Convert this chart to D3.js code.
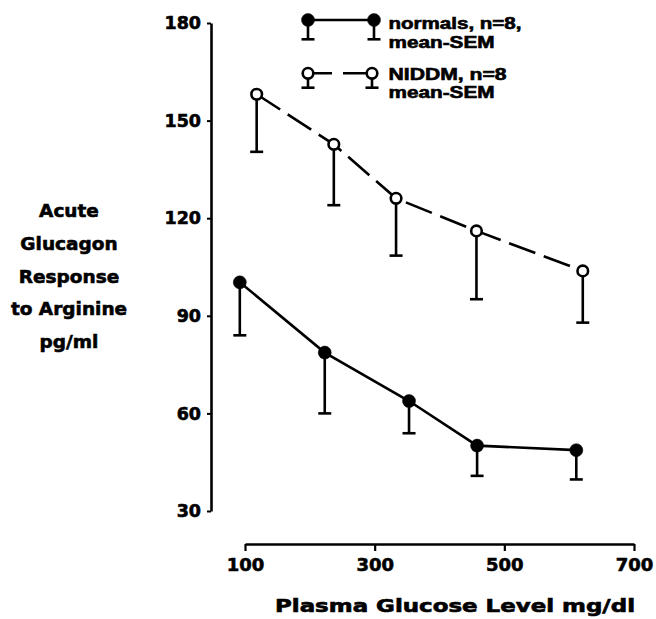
<!DOCTYPE html>
<html>
<head>
<meta charset="utf-8">
<script src="https://cdn.jsdelivr.net/npm/d3@7"></script>
<style>
  html, body { margin: 0; padding: 0; background: #fff; }
  svg { display: block; }
  .tick text { font-family: "DejaVu Sans", sans-serif; font-weight: bold; fill: #000; }
</style>
</head>
<body>
<svg id="chart" width="656" height="619"></svg>
<script>
// ---- data ----
const glucoseNormals = [92, 223, 353, 458, 611];
const meanNormals    = [100.3, 78.7, 63.8, 50.1, 48.7];
const semNormals     = [16.3, 18.7, 9.9, 9.3, 9.0];

const glucoseNIDDM = [118, 237, 333, 457, 621];
const meanNIDDM    = [158.1, 142.7, 126.1, 116.1, 103.8];
const semNIDDM     = [17.7, 18.7, 17.6, 21.0, 15.9];

const yTicks = [30, 60, 90, 120, 150, 180];
const xTicks = [100, 300, 500, 700];
const yTitleLines = ["Acute", "Glucagon", "Response", "to Arginine", "pg/ml"];
const xTitle = "Plasma Glucose Level mg/dl";
const legendNormals = ["normals, n=8,", "mean-SEM"];
const legendNIDDM = ["NIDDM, n=8", "mean-SEM"];

// ---- build ----
const svg = d3.select("#chart");
svg.append("rect").attr("width", 656).attr("height", 619).attr("fill", "#fff");

const x = d3.scaleLinear().domain([100, 700]).range([245, 634]);
const y = d3.scaleLinear().domain([30, 180]).range([511, 23]);

const heavy = sel => sel.attr("stroke", "#000").attr("stroke-width", 0.6).attr("paint-order", "stroke");

// Y axis
const yAxisG = svg.append("g")
  .attr("transform", "translate(211,0)")
  .call(d3.axisLeft(y).tickValues(yTicks).tickSize(4).tickSizeOuter(0).tickPadding(6));
yAxisG.select(".domain").attr("stroke", "#000").attr("stroke-width", 2.6);
yAxisG.selectAll(".tick line").attr("stroke", "#000").attr("stroke-width", 2);
yAxisG.selectAll(".tick text").attr("font-size", 17.5).attr("fill", "#000").call(heavy);
yAxisG.attr("font-family", null).attr("font-size", null);

// X axis (separate line below the plot)
const xAxisG = svg.append("g")
  .attr("transform", "translate(0,544)")
  .call(d3.axisBottom(x).tickValues(xTicks).tickSize(7).tickSizeOuter(0));
xAxisG.select(".domain").attr("stroke", "#000").attr("stroke-width", 2.6);
xAxisG.selectAll(".tick line").attr("stroke", "#000").attr("stroke-width", 2.2);
xAxisG.selectAll(".tick text").attr("font-size", 18).attr("y", 26.5).attr("dy", 0).attr("fill", "#000").call(heavy);
xAxisG.attr("font-family", null).attr("font-size", null);

// Y title
const yTitle = svg.append("text")
  .attr("font-family", "DejaVu Sans, sans-serif")
  .attr("font-weight", "bold")
  .attr("font-size", 18.5)
  .attr("text-anchor", "middle")
  .call(heavy);
yTitleLines.forEach((t, i) => {
  yTitle.append("tspan").attr("x", 69).attr("y", 217 + i * 32.75).text(t);
});

// X title
svg.append("text")
  .attr("x", 455).attr("y", 611.5)
  .attr("font-family", "DejaVu Sans, sans-serif")
  .attr("font-weight", "bold")
  .attr("font-size", 17)
  .attr("text-anchor", "middle")
  .attr("textLength", 360)
  .attr("lengthAdjust", "spacingAndGlyphs")
  .call(heavy)
  .text(xTitle);

// series helper
function drawSeries(xs, means, sems, opts) {
  const pts = xs.map((g, i) => ({ g, m: means[i], s: sems[i] }));
  const line = d3.line().x(d => x(d.g)).y(d => y(d.m));
  const grp = svg.append("g");
  // error bars (mean - SEM only)
  grp.selectAll("line.err").data(pts).join("line")
    .attr("x1", d => x(d.g)).attr("x2", d => x(d.g))
    .attr("y1", d => y(d.m)).attr("y2", d => y(d.m - d.s))
    .attr("stroke", "#000").attr("stroke-width", 2.6);
  grp.selectAll("line.cap").data(pts).join("line")
    .attr("x1", d => x(d.g) - 6.5).attr("x2", d => x(d.g) + 6.5)
    .attr("y1", d => y(d.m - d.s)).attr("y2", d => y(d.m - d.s))
    .attr("stroke", "#000").attr("stroke-width", 2.6);
  grp.append("path").datum(pts)
    .attr("d", line)
    .attr("fill", "none")
    .attr("stroke", "#000")
    .attr("stroke-width", 2.6)
    .attr("stroke-dasharray", opts.dash || null);
  grp.selectAll("circle").data(pts).join("circle")
    .attr("cx", d => x(d.g)).attr("cy", d => y(d.m))
    .attr("r", opts.filled ? 6.5 : 5.3)
    .attr("fill", opts.filled ? "#000" : "#fff")
    .attr("stroke", "#000")
    .attr("stroke-width", opts.filled ? 0.5 : 2.6);
}

drawSeries(glucoseNIDDM, meanNIDDM, semNIDDM, { filled: false, dash: "28,9" });
drawSeries(glucoseNormals, meanNormals, semNormals, { filled: true });

// Legend
function legendItem(yc, errLen, filled, dash, lines, textY, widths) {
  const g = svg.append("g");
  const xs = [308, filled ? 374 : 372];
  g.append("line").attr("x1", xs[0]).attr("x2", xs[1]).attr("y1", yc).attr("y2", yc)
    .attr("stroke", "#000").attr("stroke-width", 2.6)
    .attr("stroke-dasharray", dash || null);
  xs.forEach(cx => {
    g.append("line").attr("x1", cx).attr("x2", cx).attr("y1", yc).attr("y2", yc + errLen)
      .attr("stroke", "#000").attr("stroke-width", 2.6);
    g.append("line").attr("x1", cx - 6.5).attr("x2", cx + 6.5).attr("y1", yc + errLen).attr("y2", yc + errLen)
      .attr("stroke", "#000").attr("stroke-width", 2.6);
    g.append("circle").attr("cx", cx).attr("cy", yc).attr("r", filled ? 6.5 : 5.3)
      .attr("fill", filled ? "#000" : "#fff").attr("stroke", "#000")
      .attr("stroke-width", filled ? 0.5 : 2.6);
  });
  lines.forEach((s, i) => {
    g.append("text")
      .attr("x", 388.5).attr("y", textY[i])
      .attr("font-family", "Liberation Sans, Arial, sans-serif")
      .attr("font-weight", "bold")
      .attr("font-size", 16)
      .attr("textLength", widths[i])
      .attr("lengthAdjust", "spacingAndGlyphs")
      .call(heavy)
      .text(s);
  });
}
legendItem(20, 19.3, true, null, legendNormals, [28.5, 48], [133, 106]);
legendItem(73.3, 14.4, false, "24,11,60", legendNIDDM, [79.5, 98], [118, 106]);
</script>
</body>
</html>
